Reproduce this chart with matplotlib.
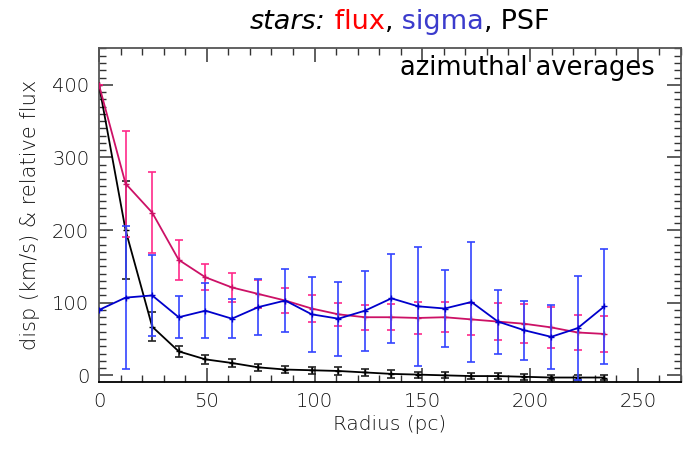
import matplotlib
matplotlib.use("Agg")
import matplotlib.pyplot as plt
from matplotlib.ticker import MultipleLocator

radius = [0, 12.34, 24.7, 37.0, 49.4, 61.7, 74.0, 86.4, 98.7, 111.1,
          123.4, 135.7, 148.1, 160.4, 172.8, 185.1, 197.4, 209.8, 222.1, 234.5]

flux = [400, 264, 224, 159, 135, 121, 112, 103, 92, 84,
        80, 80, 79, 80, 77, 74, 71, 66, 59, 57]
flux_err = [0, 73, 56, 28, 18, 20, 19, 17, 19, 16,
            17, 18, 22, 21, 22, 26, 27, 28, 24, 25]

sigma = [90, 107, 110, 80, 89, 78, 94, 103, 84, 78,
         89, 106, 95, 92, 101, 74, 62, 53, 65, 95]
sigma_err = [0, 98, 56, 29, 38, 27, 38, 44, 52, 51,
             55, 61, 82, 53, 83, 44, 41, 44, 72, 79]

psf = [400, 200, 67, 33, 22, 17, 11, 8, 7, 6,
       4, 2, 1, 0, -1, -1, -2, -3, -3, -3]
psf_err = [0, 67, 20, 8, 6, 5, 5, 5, 5, 5,
           5, 5, 4, 4, 4, 4, 4, 3, 3, 3]

label_font = dict(family="DejaVu Sans", weight="light")

fig = plt.figure(figsize=(6.92, 4.53), dpi=100)
ax = fig.add_axes([0.143, 0.157, 0.841, 0.736])

ax.errorbar(radius, psf, yerr=psf_err, color="black", ecolor="#222222",
            lw=1.3, elinewidth=1.2, capsize=3, capthick=1.2,
            marker="+", ms=5, zorder=3)
ax.errorbar(radius, flux, yerr=flux_err, color="#cc1166", ecolor="#ff2a8a",
            lw=1.3, elinewidth=1.2, capsize=3, capthick=1.2,
            marker="+", ms=5, zorder=4)
ax.errorbar(radius, sigma, yerr=sigma_err, color="#0000cc", ecolor="#3344ff",
            lw=1.3, elinewidth=1.2, capsize=3, capthick=1.2,
            marker="+", ms=5, zorder=5)

ax.set_xlim(0, 270)
ax.set_ylim(-9, 450)
ax.xaxis.set_major_locator(MultipleLocator(50))
ax.xaxis.set_minor_locator(MultipleLocator(10))
ax.yaxis.set_major_locator(MultipleLocator(100))
ax.yaxis.set_minor_locator(MultipleLocator(10))
ax.tick_params(which="both", direction="in", top=True, right=True,
               color="#333333", labelcolor="#111111", labelsize=14)
ax.tick_params(which="major", length=10, width=1.1, pad=7)
ax.tick_params(which="minor", length=5, width=1.0)
for lab in ax.get_xticklabels() + ax.get_yticklabels():
    lab.set_fontweight("light")
for s in ax.spines.values():
    s.set_color("#555555")
    s.set_linewidth(1.3)
ax.spines["bottom"].set_color("black")

ax.set_xlabel("Radius (pc)", fontsize=14.5, color="#111111", labelpad=3,
              **label_font)
ax.set_ylabel("disp (km/s) & relative flux", fontsize=15, color="#111111",
              labelpad=9, **label_font)

ax.text(0.955, 0.94, "azimuthal averages", transform=ax.transAxes,
        ha="right", va="center", fontsize=18.5, color="black")

# multicolour title built from consecutive text pieces
parts = [("stars:", "black", "italic"), (" flux", "#ff0000", "normal"),
         (",", "black", "normal"), (" sigma", "#3b3bcc", "normal"),
         (",", "black", "normal"), (" PSF", "black", "normal")]
fig.canvas.draw()
renderer = fig.canvas.get_renderer()
x = 250 / 692
y = 1 - 22 / 453
for txt, col, sty in parts:
    t = fig.text(x, y, txt, color=col, style=sty, fontsize=19.5,
                 ha="left", va="center")
    bb = t.get_window_extent(renderer=renderer)
    x += bb.width / fig.bbox.width

fig.savefig("out.png", dpi=100)
